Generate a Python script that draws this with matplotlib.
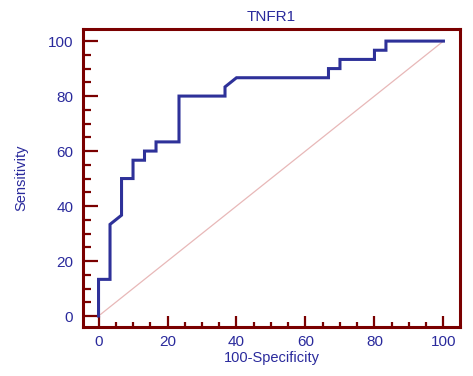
import matplotlib
matplotlib.use("Agg")
import matplotlib.pyplot as plt
from matplotlib.ticker import MultipleLocator

# ROC curve vertices (100-Specificity, Sensitivity)
fpr = [0, 0, 3.33, 3.33, 6.67, 6.67, 10, 10, 13.33, 13.33, 16.67, 16.67,
       23.33, 23.33, 36.67, 36.67, 40, 66.67, 66.67, 70, 70, 80, 80,
       83.33, 83.33, 100]
tpr = [0, 13.33, 13.33, 33.33, 36.67, 50, 50, 56.67, 56.67, 60, 60, 63.33,
       63.33, 80, 80, 83.33, 86.67, 86.67, 90, 90, 93.33, 93.33, 96.67,
       96.67, 100, 100]
ref_line = [0, 100]

title = "TNFR1"
xlabel = "100-Specificity"
ylabel = "Sensitivity"

spine_col = '#7a0000'
text_col = '#2a2a9c'
curve_col = '#2e3199'

plt.rcParams['font.family'] = ['Liberation Sans', 'DejaVu Sans']

fig = plt.figure(figsize=(4.73, 3.76), dpi=100)
ax = fig.add_axes([0.1755, 0.1303, 0.797, 0.7926])

ax.plot(ref_line, ref_line, color='#e8b8b8', lw=0.9)
ax.plot(fpr, tpr, color=curve_col, lw=2.2, solid_joinstyle='miter')

ax.set_xlim(-4.5, 104.8)
ax.set_ylim(-4, 104.4)

for s in ax.spines.values():
    s.set_color(spine_col)
    s.set_linewidth(2.2)

ax.xaxis.set_major_locator(MultipleLocator(20))
ax.xaxis.set_minor_locator(MultipleLocator(5))
ax.yaxis.set_major_locator(MultipleLocator(20))
ax.yaxis.set_minor_locator(MultipleLocator(5))

ax.tick_params(axis='both', which='both', direction='in', color=spine_col,
               labelcolor=text_col, labelsize=11, width=1.6,
               top=False, right=False)
ax.tick_params(axis='x', which='major', length=8, pad=6)
ax.tick_params(axis='x', which='minor', length=3.8)
ax.tick_params(axis='y', which='major', length=11, pad=7)
ax.tick_params(axis='y', which='minor', length=5.8)

ax.set_title(title, color=text_col, fontsize=11, pad=6)
ax.set_xlabel(xlabel, color=text_col, fontsize=10.5, labelpad=1)
ax.set_ylabel(ylabel, color=text_col, fontsize=10.5, labelpad=14,
              family=['Liberation Sans Narrow', 'Liberation Sans'])

fig.savefig("out.png", dpi=100)
